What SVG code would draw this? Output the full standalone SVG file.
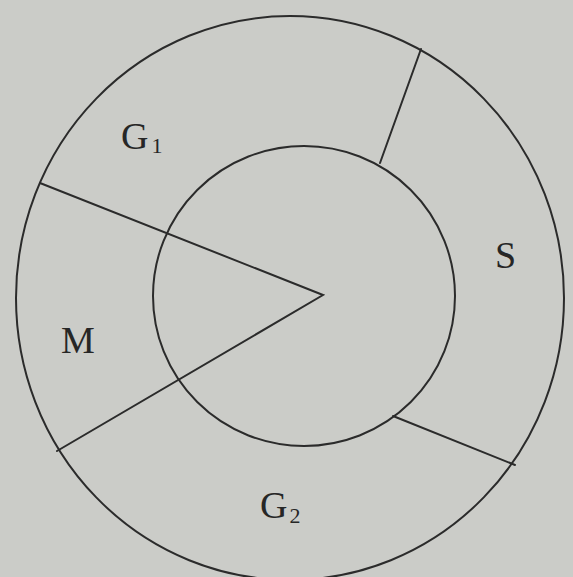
<svg xmlns="http://www.w3.org/2000/svg" width="573" height="577" viewBox="0 0 573 577">
<style>
.ln{fill:none;stroke:#2b2b2b;stroke-width:2;stroke-linecap:round}
.lb{font-family:"Liberation Serif","Times New Roman",serif;font-size:38px;fill:#262626}
.sub{font-size:22px}
</style>
<rect width="573" height="577" fill="#cbccc8"/>
<g id="outer-ring"><ellipse class="ln" cx="290" cy="298" rx="274" ry="282"/></g>
<g id="inner-circle"><ellipse class="ln" cx="304" cy="296" rx="151" ry="150"/></g>
<g id="connectors">
<polyline class="ln" points="40,183 323,295 57,451"/>
<line class="ln" x1="421" y1="49" x2="380" y2="163"/>
<line class="ln" x1="393" y1="416" x2="515" y2="465"/>
</g>
<g id="G1"><text class="lb" x="121" y="149">G<tspan class="sub" dx="3" dy="4">1</tspan></text></g>
<g id="S"><text class="lb" x="495" y="268">S</text></g>
<g id="M"><text class="lb" x="61" y="353">M</text></g>
<g id="G2"><text class="lb" x="260" y="518">G<tspan class="sub" dx="2" dy="5">2</tspan></text></g>
</svg>
